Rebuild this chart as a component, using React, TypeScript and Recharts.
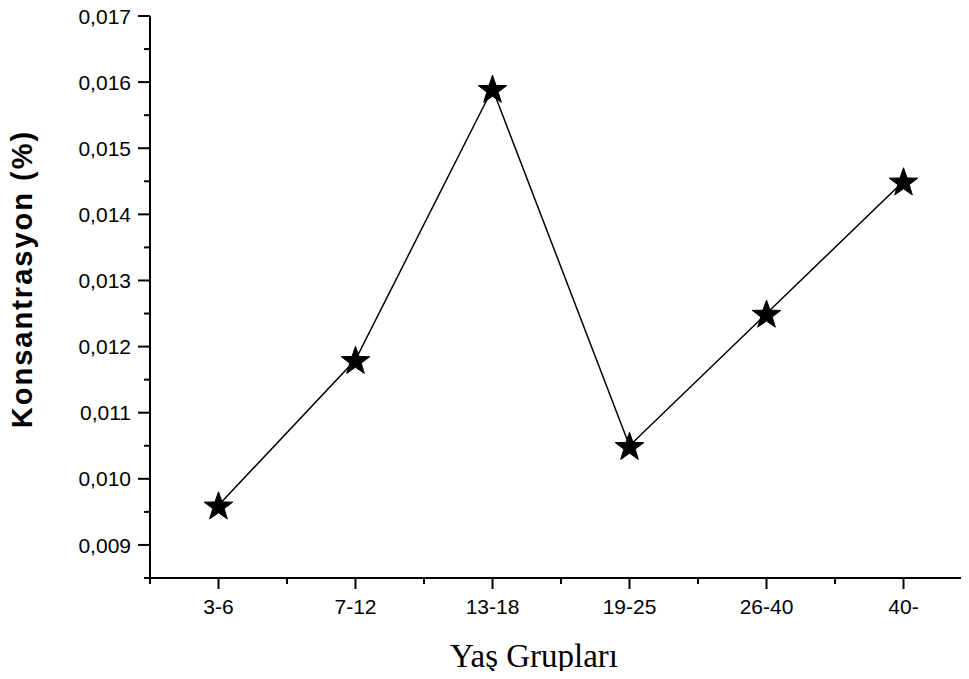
import { LineChart, Line, XAxis, YAxis, Label } from 'recharts';

// age groups and measured concentration (%)
const groups = ['3-6', '7-12', '13-18', '19-25', '26-40', '40-'];
const concentration = [0.0096, 0.0118, 0.0159, 0.0105, 0.0125, 0.0145];

// tick positions: majors sit on the group centres / whole thousandths, minors in between
const xTicks = [0, 0.5, 1, 1.5, 2, 2.5, 3, 3.5, 4, 4.5, 5, 5.5, 6];
const yTicks = [
  0.0085, 0.009, 0.0095, 0.01, 0.0105, 0.011, 0.0115, 0.012, 0.0125,
  0.013, 0.0135, 0.014, 0.0145, 0.015, 0.0155, 0.016, 0.0165, 0.017,
];

const chartData = groups.map((g, i) => ({ pos: i + 0.5, group: g, value: concentration[i] }));

const TICK_FONT = '"Liberation Sans", Arial, sans-serif';

function XTick(props: any) {
  const { x, y, payload } = props;
  const v = payload.value as number;
  const major = Math.abs(v - Math.floor(v) - 0.5) < 1e-6;
  return (
    <g>
      <line x1={x} x2={x} y1={y} y2={y + (major ? 11 : 6)} stroke="#000" strokeWidth={2} />
      {major && (
        <text x={x} y={y + 36} textAnchor="middle" fontSize={21} fontFamily={TICK_FONT} fill="#000">
          {groups[Math.floor(v)]}
        </text>
      )}
    </g>
  );
}

function YTick(props: any) {
  const { x, y, payload } = props;
  const v = payload.value as number;
  const major = Math.round(v * 10000) % 10 === 0;
  return (
    <g>
      <line x1={x - (major ? 12 : 6)} x2={x} y1={y} y2={y} stroke="#000" strokeWidth={2} />
      {major && (
        <text x={x - 19} y={y} dy="0.36em" textAnchor="end" fontSize={21} fontFamily={TICK_FONT} fill="#000">
          {v.toFixed(3).replace('.', ',')}
        </text>
      )}
    </g>
  );
}

function StarDot(props: any) {
  const { cx, cy, index } = props;
  const outer = 15;
  const inner = 6;
  const pts: string[] = [];
  for (let k = 0; k < 10; k++) {
    const r = k % 2 === 0 ? outer : inner;
    const a = -Math.PI / 2 + (k * Math.PI) / 5;
    pts.push(`${cx + r * Math.cos(a)},${cy + 1.5 + r * Math.sin(a)}`);
  }
  return <polygon key={`star-${index}`} points={pts.join(' ')} fill="#000" stroke="#000" strokeWidth={1} />;
}

export default function App() {
  return (
    <div style={{ width: 969, height: 679, margin: -8, background: '#fff', overflow: 'hidden' }}>
      <LineChart
        width={969}
        height={679}
        data={chartData}
        margin={{ top: 16, right: -3, bottom: 0, left: 0 }}
      >
        <XAxis
          dataKey="pos"
          type="number"
          domain={[0, 6]}
          ticks={xTicks}
          interval={0}
          height={101}
          tickSize={0}
          tickMargin={0}
          tickLine={false}
          tick={<XTick />}
          axisLine={{ stroke: '#000', strokeWidth: 2 }}
        >
          <Label
            content={({ viewBox }: any) => (
              <text
                x={viewBox.x + viewBox.width / 2 - 27}
                y={viewBox.y + 89}
                textAnchor="middle"
                fontSize={33}
                fontFamily='"Liberation Serif", "Times New Roman", serif'
                fill="#000"
              >
                Yaş Grupları
              </text>
            )}
          />
        </XAxis>
        <YAxis
          type="number"
          domain={[0.0085, 0.017]}
          ticks={yTicks}
          interval={0}
          width={150}
          tickSize={0}
          tickMargin={0}
          tickLine={false}
          tick={<YTick />}
          axisLine={{ stroke: '#000', strokeWidth: 2 }}
        >
          <Label
            content={({ viewBox }: any) => {
              const cx = viewBox.x + 32;
              const cy = viewBox.y + viewBox.height / 2 - 18;
              return (
                <text
                  x={cx}
                  y={cy}
                  transform={`rotate(-90 ${cx} ${cy})`}
                  textAnchor="middle"
                  fontSize={29}
                  fontWeight="bold"
                  letterSpacing={2}
                  fontFamily={TICK_FONT}
                  fill="#000"
                >
                  Konsantrasyon (%)
                </text>
              );
            }}
          />
        </YAxis>
        <Line
          type="linear"
          dataKey="value"
          stroke="#000"
          strokeWidth={1.5}
          dot={<StarDot />}
          activeDot={false}
          isAnimationActive={false}
        />
      </LineChart>
    </div>
  );
}
